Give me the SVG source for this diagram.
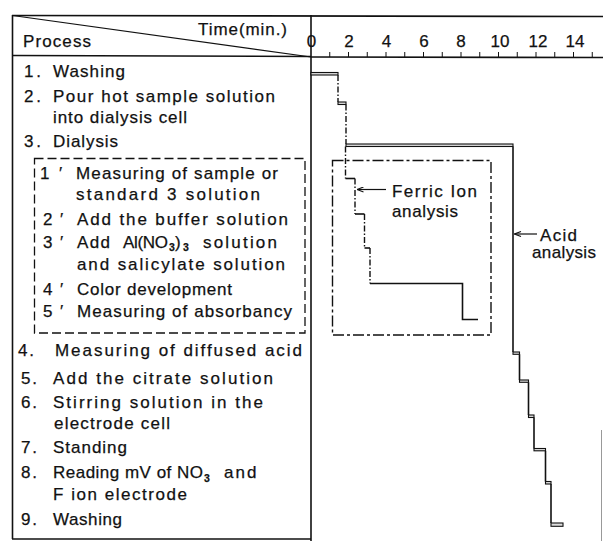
<svg xmlns="http://www.w3.org/2000/svg" width="603" height="541" viewBox="0 0 603 541">
<defs>
<style>
text{font-family:"Liberation Sans",Arial,sans-serif;font-size:17px;fill:#111;stroke:#111;stroke-width:0.25;}
.sub{font-size:10.5px;font-weight:bold;}
.ax{text-anchor:middle;}
.frame{stroke:#111;stroke-width:1.6;fill:none;}
.tick{stroke:#111;stroke-width:1;}
.bar{stroke:#111;stroke-width:1.1;fill:#ddd;}
.solid{stroke:#111;stroke-width:1.6;fill:none;}
.dd{stroke:#111;stroke-width:1.4;fill:none;stroke-dasharray:6,2,1.5,2;}
.box1{stroke:#111;stroke-width:1.3;fill:none;stroke-dasharray:9,4;}
.box2{stroke:#111;stroke-width:1.4;fill:none;stroke-dasharray:11,3,3,3;}
.arr{stroke:#111;stroke-width:1.2;fill:none;marker-start:url(#ah);}
</style>
<marker id="ah" markerWidth="8" markerHeight="6" refX="0.5" refY="3" orient="auto" markerUnits="userSpaceOnUse">
<path d="M7,0.5 L0.5,3 L7,5.5" fill="none" stroke="#111" stroke-width="1.1"/>
</marker>
</defs>
<rect width="603" height="541" fill="#fff"/>

<g id="frame">
<line class="frame" x1="12" y1="15.5" x2="603" y2="16.5"/>
<line class="frame" x1="12.5" y1="15" x2="12.5" y2="539"/>
<line class="frame" x1="12" y1="55.5" x2="311" y2="56.5"/>
<line class="frame" x1="311" y1="57" x2="603" y2="57.5"/>
<line class="frame" x1="311" y1="15" x2="311" y2="541" stroke-width="2"/>
<line class="frame" x1="12" y1="539" x2="311" y2="539"/>
<line x1="12.5" y1="15.5" x2="311" y2="57" stroke="#111" stroke-width="1.1"/>
<line x1="601.5" y1="430" x2="601.5" y2="541" stroke="#999" stroke-width="1"/>
</g>

<g id="header">
<text x="198" y="34.5" textLength="89" lengthAdjust="spacing">Time(min.)</text>
<text x="23" y="47" textLength="68" lengthAdjust="spacing">Process</text>
</g>

<g id="axis">
<text class="ax" x="311.5" y="47">0</text>
<text class="ax" x="349" y="47">2</text>
<text class="ax" x="386.5" y="47">4</text>
<text class="ax" x="424" y="47">6</text>
<text class="ax" x="461" y="47">8</text>
<text class="ax" x="500" y="47">10</text>
<text class="ax" x="538" y="47">12</text>
<text class="ax" x="575" y="47">14</text>
<path class="tick" d="M329.75,52V57M348.5,52V57M367.25,52V57M386,52V57M404.75,52V57M423.5,52V57M442.25,52V57M461,52V57M479.75,52V57M498.5,52V57M517.25,52V57M536,52V57M554.75,52V57M573.5,52V57M592.25,52V57"/>
</g>

<g id="process-list">
<text x="24" y="76.5" textLength="17" lengthAdjust="spacing">1.</text>
<text x="53" y="76.5" textLength="72" lengthAdjust="spacing">Washing</text>
<text x="24" y="101.5" textLength="17" lengthAdjust="spacing">2.</text>
<text x="53" y="101.5" textLength="222" lengthAdjust="spacing">Pour hot sample solution</text>
<text x="53" y="122.5" textLength="134" lengthAdjust="spacing">into dialysis cell</text>
<text x="24" y="147" textLength="17" lengthAdjust="spacing">3.</text>
<text x="53" y="147" textLength="65" lengthAdjust="spacing">Dialysis</text>

<text x="40" y="179">1</text><text x="59" y="179">′</text>
<text x="76" y="179" textLength="202" lengthAdjust="spacing">Measuring of sample or</text>
<text x="76" y="200" textLength="184" lengthAdjust="spacing">standard 3 solution</text>
<text x="43" y="225">2</text><text x="60" y="225">′</text>
<text x="77" y="225" textLength="211" lengthAdjust="spacing">Add the buffer solution</text>
<text x="43" y="247.5">3</text><text x="60" y="247.5">′</text>
<text x="77" y="247.5" textLength="33" lengthAdjust="spacing">Add</text>
<text x="123" y="247.5" textLength="45" lengthAdjust="spacing">Al(NO</text>
<text class="sub" x="169" y="251">3</text>
<text x="175" y="247.5">)</text>
<text class="sub" x="183" y="251">3</text>
<text x="203" y="247.5" textLength="74" lengthAdjust="spacing">solution</text>
<text x="77" y="270" textLength="208" lengthAdjust="spacing">and salicylate solution</text>
<text x="43" y="295">4</text><text x="60" y="295">′</text>
<text x="77" y="295" textLength="155" lengthAdjust="spacing">Color development</text>
<text x="43" y="316.5">5</text><text x="60" y="316.5">′</text>
<text x="77" y="316.5" textLength="215" lengthAdjust="spacing">Measuring of absorbancy</text>

<text x="18" y="355.5" textLength="16" lengthAdjust="spacing">4.</text>
<text x="55" y="355.5" textLength="247" lengthAdjust="spacing">Measuring of diffused acid</text>
<text x="21" y="383.5" textLength="16" lengthAdjust="spacing">5.</text>
<text x="53" y="383.5" textLength="220" lengthAdjust="spacing">Add the citrate solution</text>
<text x="21" y="408" textLength="16" lengthAdjust="spacing">6.</text>
<text x="53" y="408" textLength="210" lengthAdjust="spacing">Stirring solution in the</text>
<text x="54" y="429" textLength="116" lengthAdjust="spacing">electrode cell</text>
<text x="21" y="453" textLength="16" lengthAdjust="spacing">7.</text>
<text x="53" y="453" textLength="74" lengthAdjust="spacing">Standing</text>
<text x="21" y="478" textLength="16" lengthAdjust="spacing">8.</text>
<text x="53" y="478" textLength="150" lengthAdjust="spacing">Reading mV of NO</text>
<text class="sub" x="204" y="481.5">3</text>
<text x="224" y="478" letter-spacing="2">and</text>
<text x="53" y="500" textLength="134" lengthAdjust="spacing">F ion electrode</text>
<text x="21" y="525" textLength="16" lengthAdjust="spacing">9.</text>
<text x="53" y="525" textLength="69" lengthAdjust="spacing">Washing</text>
</g>

<g id="dialysis-box">
<rect class="box1" x="34.5" y="158.5" width="270.5" height="174.5"/>
</g>

<g id="ferric-box">
<rect class="box2" x="332.5" y="160.5" width="158.5" height="174.5"/>
</g>

<g id="connectors">
<rect class="bar" x="311" y="72.5" width="27" height="2.5"/>
<line class="dd" x1="338" y1="75" x2="338" y2="102"/>
<rect class="bar" x="338" y="102" width="8" height="2.5"/>
<line class="dd" x1="346" y1="104.5" x2="346" y2="144"/>
<rect class="bar" x="346" y="144" width="167" height="2.5"/>
<path class="solid" d="M513,146.5V352"/>
<rect class="bar" x="513" y="352" width="6.5" height="2.3"/>
<path class="solid" d="M519.5,354.3V380"/>
<rect class="bar" x="519.5" y="380" width="9" height="2.3"/>
<path class="solid" d="M528.5,382.3V415"/>
<rect class="bar" x="528.5" y="415" width="5.5" height="2.5"/>
<path class="solid" d="M534,417.5V448.5"/>
<rect class="bar" x="534" y="448.5" width="11.5" height="2.3"/>
<path class="solid" d="M545.5,450.8V481.5"/>
<rect class="bar" x="545.5" y="481.5" width="5.5" height="2.5"/>
<path class="solid" d="M551,484V523"/>
<rect class="bar" x="551" y="523" width="12" height="3.3" fill="#fff"/>
<path class="dd" d="M345.5,146.5V178.5"/>
<path class="solid" d="M345.5,178.5H355" stroke-width="1.3"/>
<path class="dd" d="M355,178.5V214"/>
<path class="solid" d="M355,214H364.5" stroke-width="1.3"/>
<path class="dd" d="M364.5,214V248"/>
<path class="solid" d="M364.5,248H370" stroke-width="1.3"/>
<path class="dd" d="M370,248V283.5"/>
<path class="solid" d="M370,283.5H462.5V319.5H478"/>
<line class="arr" x1="357" y1="189.5" x2="386" y2="189.5"/>
<line class="arr" x1="514.5" y1="234" x2="537" y2="234"/>
</g>

<g id="ferric-label">
<text x="392" y="196.5" textLength="85" lengthAdjust="spacing">Ferric Ion</text>
<text x="392" y="217" textLength="66" lengthAdjust="spacing">analysis</text>
</g>
<g id="acid-label">
<text x="540" y="240.5" textLength="37" lengthAdjust="spacing">Acid</text>
<text x="532" y="258" textLength="64" lengthAdjust="spacing">analysis</text>
</g>
</svg>
